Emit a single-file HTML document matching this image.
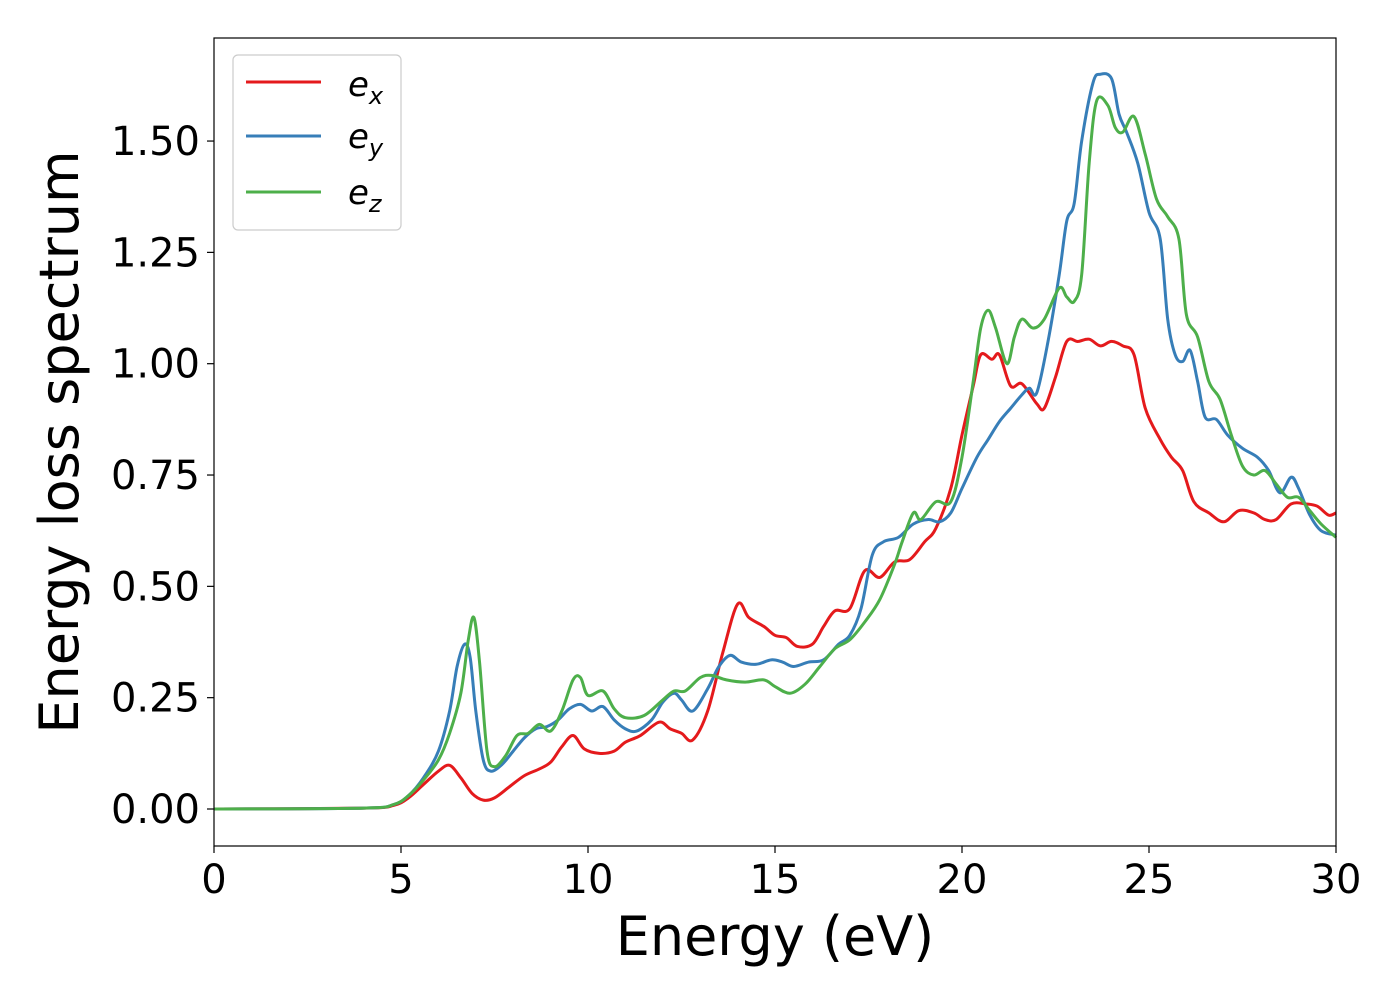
<!DOCTYPE html>
<html><head><meta charset="utf-8"><style>
html,body{margin:0;padding:0;background:#fff;}
svg text{font-family:"DejaVu Sans","Liberation Sans",sans-serif;fill:#000;}
</style></head><body>
<svg id="chart" width="1400" height="1000" viewBox="0 0 1400 1000" xmlns="http://www.w3.org/2000/svg">
<rect x="0" y="0" width="1400" height="1000" fill="#fff"/>
<g id="series"></g>
<g id="axes"></g>
<rect x="214" y="38" width="1122" height="808" fill="none" stroke="#000" stroke-width="1.2"/>
<text x="775" y="955" font-size="54" text-anchor="middle">Energy (eV)</text>
<text transform="translate(78,442) rotate(-90)" font-size="54" text-anchor="middle">Energy loss spectrum</text>
<g>
<rect x="233" y="55" width="168" height="175" rx="5" fill="#fff" fill-opacity="0.8" stroke="#ccc" stroke-width="1.2"/>
<line x1="246" y1="82" x2="321" y2="82" stroke="#e41a1c" stroke-width="3"/>
<text x="348" y="96" font-size="34" font-style="italic">e<tspan font-size="24" dy="8">x</tspan></text>
<line x1="246" y1="136" x2="321" y2="136" stroke="#377eb8" stroke-width="3"/>
<text x="348" y="148" font-size="34" font-style="italic">e<tspan font-size="24" dy="8">y</tspan></text>
<line x1="246" y1="192" x2="321" y2="192" stroke="#4daf4a" stroke-width="3"/>
<text x="348" y="204" font-size="34" font-style="italic">e<tspan font-size="24" dy="8">z</tspan></text>
</g>
</svg>
<script>
const xTicks=[0,5,10,15,20,25,30];
const xTickLabels=["0","5","10","15","20","25","30"];
const yTicks=[0,0.25,0.5,0.75,1.0,1.25,1.5];
const yTickLabels=["0.00","0.25","0.50","0.75","1.00","1.25","1.50"];
const exE=[0,4,4.8,5.2,5.6,6.0,6.3,6.6,6.9,7.2,7.5,7.9,8.3,8.7,9.0,9.3,9.6,9.9,10.3,10.7,11.0,11.4,11.9,12.2,12.5,12.8,13.2,13.6,14.0,14.3,14.7,15.0,15.3,15.6,16.0,16.3,16.6,17.0,17.4,17.8,18.2,18.6,19.0,19.3,19.7,20.0,20.3,20.5,20.8,21.0,21.3,21.6,22.0,22.2,22.5,22.8,23.1,23.4,23.7,24.0,24.3,24.6,24.9,25.3,25.6,25.9,26.2,26.6,27.0,27.4,27.8,28.1,28.4,28.8,29.2,29.5,29.8,30];
const exV=[0,0.002,0.008,0.025,0.055,0.085,0.098,0.07,0.035,0.02,0.025,0.05,0.075,0.09,0.105,0.14,0.165,0.135,0.125,0.13,0.15,0.165,0.195,0.18,0.17,0.155,0.22,0.35,0.46,0.43,0.41,0.39,0.385,0.365,0.37,0.41,0.445,0.45,0.535,0.52,0.555,0.56,0.6,0.63,0.72,0.84,0.95,1.02,1.01,1.02,0.95,0.955,0.91,0.9,0.97,1.05,1.05,1.055,1.04,1.05,1.04,1.02,0.9,0.83,0.79,0.76,0.69,0.665,0.645,0.67,0.665,0.65,0.65,0.685,0.685,0.68,0.66,0.665];
const eyE=[0,4,4.8,5.2,5.6,6.0,6.3,6.5,6.7,6.85,7.0,7.2,7.4,7.7,8.0,8.3,8.6,8.9,9.2,9.5,9.8,10.1,10.4,10.7,11.0,11.3,11.7,12.0,12.3,12.5,12.8,13.2,13.5,13.8,14.1,14.5,14.9,15.2,15.5,15.9,16.3,16.7,17.0,17.3,17.6,17.9,18.3,18.7,19.1,19.4,19.7,20.0,20.4,20.7,21.0,21.3,21.6,21.8,22.0,22.3,22.6,22.8,23.0,23.2,23.5,23.7,24.0,24.2,24.4,24.7,25.0,25.3,25.5,25.7,25.9,26.1,26.3,26.5,26.8,27.1,27.5,27.9,28.2,28.5,28.8,29.0,29.3,29.6,30];
const eyV=[0,0.002,0.01,0.03,0.07,0.13,0.22,0.32,0.37,0.34,0.22,0.11,0.085,0.1,0.13,0.16,0.18,0.185,0.2,0.225,0.235,0.22,0.23,0.2,0.18,0.175,0.2,0.24,0.26,0.245,0.22,0.27,0.32,0.345,0.33,0.325,0.335,0.33,0.32,0.33,0.335,0.37,0.39,0.45,0.57,0.6,0.61,0.64,0.65,0.645,0.665,0.72,0.79,0.83,0.87,0.9,0.93,0.945,0.935,1.05,1.2,1.32,1.36,1.5,1.63,1.65,1.64,1.56,1.52,1.45,1.34,1.28,1.1,1.02,1.005,1.03,0.96,0.88,0.875,0.84,0.81,0.79,0.76,0.71,0.745,0.72,0.66,0.625,0.615];
const ezE=[0,4,4.8,5.2,5.6,6.0,6.3,6.6,6.8,6.95,7.1,7.3,7.5,7.8,8.1,8.4,8.7,9.0,9.3,9.6,9.8,10.0,10.4,10.7,11.0,11.5,12.0,12.3,12.6,13.0,13.3,13.7,14.2,14.7,15.0,15.4,15.8,16.2,16.6,17.0,17.4,17.8,18.2,18.4,18.7,18.9,19.3,19.7,20.0,20.3,20.5,20.7,20.9,21.2,21.4,21.6,21.9,22.2,22.6,22.8,23.0,23.2,23.4,23.6,23.9,24.1,24.3,24.6,24.9,25.2,25.5,25.8,26.0,26.3,26.6,26.9,27.2,27.5,27.8,28.1,28.4,28.7,29.0,29.3,29.6,30];
const ezV=[0,0.002,0.01,0.03,0.065,0.11,0.17,0.26,0.38,0.43,0.33,0.13,0.095,0.12,0.165,0.17,0.19,0.175,0.22,0.29,0.295,0.255,0.265,0.225,0.205,0.21,0.245,0.265,0.265,0.295,0.3,0.29,0.285,0.29,0.275,0.26,0.28,0.32,0.36,0.38,0.42,0.47,0.55,0.6,0.665,0.65,0.69,0.69,0.79,0.96,1.08,1.12,1.08,1.0,1.06,1.1,1.08,1.1,1.17,1.15,1.14,1.2,1.45,1.59,1.58,1.53,1.52,1.555,1.47,1.37,1.33,1.28,1.11,1.06,0.96,0.92,0.84,0.77,0.75,0.76,0.73,0.7,0.7,0.67,0.64,0.61];

const NS="http://www.w3.org/2000/svg";
const X0=214,X1=1336,Y0=809,YPER=445.3;
function xs(v){return X0+(v-0)/(30-0)*(X1-X0);}
function ys(v){return Y0-v*YPER;}
const axes=document.getElementById('axes');
xTicks.forEach((t,i)=>{
  const l=document.createElementNS(NS,'line');
  
  
  l.setAttribute('x1',xs(t));l.setAttribute('x2',xs(t));l.setAttribute('y1',846);l.setAttribute('y2',853);l.setAttribute('stroke','#000');l.setAttribute('stroke-width','1.2');
  axes.appendChild(l);
  const tx=document.createElementNS(NS,'text');
  
  
  tx.setAttribute('x',xs(t));tx.setAttribute('y',893);tx.setAttribute('font-size','40');tx.setAttribute('text-anchor','middle');
  tx.textContent=xTickLabels[i];axes.appendChild(tx);
});
yTicks.forEach((t,i)=>{
  const l=document.createElementNS(NS,'line');
  
  
  l.setAttribute('x1',207);l.setAttribute('x2',214);l.setAttribute('y1',ys(t));l.setAttribute('y2',ys(t));l.setAttribute('stroke','#000');l.setAttribute('stroke-width','1.2');
  axes.appendChild(l);
  const tx=document.createElementNS(NS,'text');
  
  
  tx.setAttribute('x',200);tx.setAttribute('y',ys(t)+14);tx.setAttribute('font-size','40');tx.setAttribute('text-anchor','end');
  tx.textContent=yTickLabels[i];axes.appendChild(tx);
});
function pathFor(E,V){
  const p=E.map((e,i)=>[xs(e),ys(V[i])]);
  let d='M'+p[0][0]+','+p[0][1];
  for(let i=0;i<p.length-1;i++){
    const a=p[i-1]||p[i],b=p[i],c=p[i+1],e=p[i+2]||c;
    const c1=[b[0]+(c[0]-a[0])/6,b[1]+(c[1]-a[1])/6];
    const c2=[c[0]-(e[0]-b[0])/6,c[1]-(e[1]-b[1])/6];
    d+=' C'+c1[0]+','+c1[1]+' '+c2[0]+','+c2[1]+' '+c[0]+','+c[1];
  }
  return d;
}
const g=document.getElementById('series');
[[exE,exV,'#e41a1c','series-ex'],[eyE,eyV,'#377eb8','series-ey'],[ezE,ezV,'#4daf4a','series-ez']].forEach(s=>{
  const p=document.createElementNS(NS,'path');
  
  
  p.setAttribute('d',pathFor(s[0],s[1]));p.setAttribute('fill','none');p.setAttribute('stroke',s[2]);p.setAttribute('stroke-width','3');p.setAttribute('stroke-linejoin','round');
  g.appendChild(p);
});
</script>
</body></html>
